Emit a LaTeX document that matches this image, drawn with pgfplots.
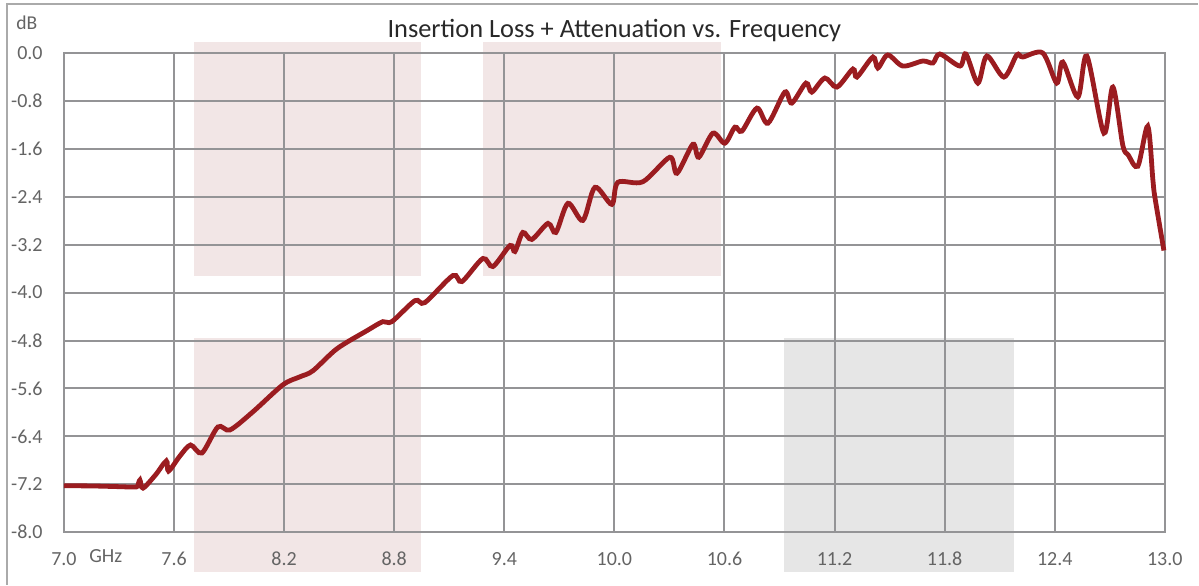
\documentclass[border=0pt]{standalone}
\usepackage{fontspec}
\setmainfont{Carlito}
\usepackage{pgfplots}
\pgfplotsset{compat=1.18}
\definecolor{curve}{RGB}{155,28,32}
\definecolor{gridc}{RGB}{148,148,150}
\definecolor{pinkband}{RGB}{242,230,230}
\definecolor{grayband}{RGB}{230,230,230}
\definecolor{ticktext}{RGB}{100,100,100}
\definecolor{titletext}{RGB}{40,40,40}
\definecolor{framec}{RGB}{170,170,170}
\begin{document}
\begin{tikzpicture}
\path (0,0) rectangle (599.5pt,292.5pt);
\draw[framec, line width=0.7pt] (3.5pt,0pt) -- (3.5pt,290.5pt) -- (599.5pt,290.5pt);
\begin{axis}[
  set layers,
  at={(32pt,26.25pt)}, anchor=south west,
  width=550.75pt, height=239.75pt, scale only axis,
  xmin=7, xmax=13, ymin=-8, ymax=0,
  clip=false,
  xtick={7.0,7.6,8.2,8.8,9.4,10.0,10.6,11.2,11.8,12.4,13.0},
  xticklabels={7.0,7.6,8.2,8.8,9.4,10.0,10.6,11.2,11.8,12.4,13.0},
  ytick={0,-0.8,-1.6,-2.4,-3.2,-4.0,-4.8,-5.6,-6.4,-7.2,-8.0},
  yticklabels={0.0,-0.8,-1.6,-2.4,-3.2,-4.0,-4.8,-5.6,-6.4,-7.2,-8.0},
  grid=major,
  major grid style={gridc, line width=1pt},
  axis line style={gridc, line width=1pt},
  major tick length=0pt,
  tick style={draw=none},
  xticklabel style={anchor=north, inner sep=0pt, yshift=-9.75pt, font=\fontsize{10}{12}\selectfont, text=ticktext},
  yticklabel style={anchor=east, inner sep=0pt, xshift=-10.5pt, font=\fontsize{10}{12}\selectfont, text=ticktext},
]
\begin{pgfonlayer}{axis background}
\fill[pinkband] (axis cs:7.708,0.179) rectangle (axis cs:8.944,-3.727);
\fill[pinkband] (axis cs:7.708,-4.758) rectangle (axis cs:8.944,-8.669);
\fill[pinkband] (axis cs:9.282,0.179) rectangle (axis cs:10.580,-3.727);
\fill[grayband] (axis cs:10.925,-4.758) rectangle (axis cs:12.177,-8.669);
\end{pgfonlayer}
\addplot[curve, line width=2.4pt, smooth, tension=0.5] table {
x y
7.000 -7.225
7.150 -7.228
7.300 -7.240
7.380 -7.247
7.400 -7.235
7.414 -7.130
7.431 -7.264
7.500 -7.040
7.558 -6.810
7.570 -6.980
7.632 -6.728
7.690 -6.544
7.752 -6.678
7.839 -6.243
7.905 -6.293
8.030 -5.990
8.193 -5.540
8.286 -5.406
8.357 -5.305
8.488 -4.937
8.651 -4.636
8.738 -4.485
8.787 -4.485
8.913 -4.134
8.967 -4.167
9.120 -3.715
9.169 -3.816
9.283 -3.431
9.338 -3.565
9.431 -3.213
9.458 -3.314
9.501 -2.996
9.550 -3.113
9.638 -2.845
9.681 -2.996
9.747 -2.510
9.828 -2.795
9.894 -2.243
9.986 -2.527
10.019 -2.159
10.155 -2.150
10.302 -1.741
10.341 -2.008
10.428 -1.523
10.460 -1.741
10.537 -1.339
10.602 -1.506
10.657 -1.238
10.695 -1.305
10.777 -0.921
10.837 -1.172
10.929 -0.653
10.967 -0.837
11.044 -0.502
11.076 -0.653
11.147 -0.418
11.213 -0.569
11.300 -0.268
11.322 -0.402
11.409 -0.067
11.436 -0.251
11.490 -0.033
11.572 -0.218
11.681 -0.134
11.736 -0.167
11.774 -0.017
11.883 -0.218
11.916 -0.017
11.981 -0.502
12.030 -0.050
12.123 -0.402
12.193 -0.033
12.226 -0.067
12.335 0.000
12.411 -0.502
12.444 -0.151
12.526 -0.736
12.575 -0.050
12.668 -1.339
12.717 -0.569
12.771 -1.540
12.800 -1.700
12.853 -1.891
12.907 -1.222
12.935 -2.120
12.946 -2.410
12.995 -3.297
};
\node[anchor=base, inner sep=0pt, yshift=7.8pt, font=\fontsize{13.2}{15}\selectfont, text=titletext] at (rel axis cs:0.5,1) {Insertion Loss + Attenuation vs. Frequency};
\node[anchor=base west, inner sep=0pt, xshift=-24pt, yshift=11.5pt, font=\fontsize{9.8}{11}\selectfont, text=ticktext] at (rel axis cs:0,1) {dB};
\node[anchor=base west, inner sep=0pt, xshift=12.5pt, yshift=-15.25pt, font=\fontsize{10}{12}\selectfont, text=ticktext] at (rel axis cs:0,0) {GHz};
\end{axis}
\end{tikzpicture}
\end{document}
